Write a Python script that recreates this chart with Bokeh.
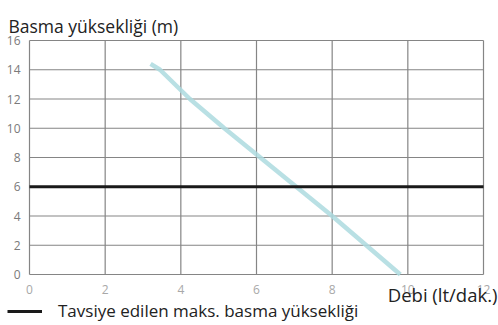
from bokeh.plotting import figure
from bokeh.models import Range1d, Label, Legend, LegendItem, ColumnDataSource
from bokeh.core.properties import value
from bokeh.embed import file_html
from bokeh.resources import INLINE

# Data
flow = [3.2, 3.45, 4.24, 5.15, 6.1, 7.05, 8.0, 8.9, 9.8]
head = [14.4, 14.0, 12.0, 10.0, 8.0, 6.0, 4.0, 2.0, 0.0]
rec_x = [0, 12]
rec_y = [6, 6]
x_ticks = [0, 2, 4, 6, 8, 10, 12]
y_ticks = [0, 2, 4, 6, 8, 10, 12, 14, 16]
title_txt = "Basma yüksekliği (m)"
xlabel_txt = "Debi (lt/dak.)"
legend_txt = "Tavsiye edilen maks. basma yüksekliği"

FONT = "Open Sans"
W, H = 498, 325
# pixel placement of the plotting area inside the canvas
PX0, PX1 = 29, 483   # x = 0 .. 12
PY0, PY1 = 274, 40   # y = 0 .. 16 (from top)
xmin, xmax = x_ticks[0], x_ticks[-1]
ymin, ymax = y_ticks[0], y_ticks[-1]
sx = (PX1 - PX0) / (xmax - xmin)
sy = (PY0 - PY1) / (ymax - ymin)
x_range = Range1d(xmin - PX0 / sx, xmax + (W - PX1) / sx)
y_range = Range1d(ymin - (H - PY0) / sy, ymax + PY1 / sy)

p = figure(width=W, height=H, output_backend="svg", toolbar_location=None,
           x_range=x_range, y_range=y_range, min_border=0)
p.axis.visible = False
p.grid.visible = False
p.outline_line_color = None

# grid lines from the tick arrays
vx = ColumnDataSource(dict(x=x_ticks, y0=[ymin] * len(x_ticks), y1=[ymax] * len(x_ticks)))
hy = ColumnDataSource(dict(y=y_ticks, x0=[xmin] * len(y_ticks), x1=[xmax] * len(y_ticks)))
p.segment(x0="x", x1="x", y0="y0", y1="y1", source=vx, line_color="#858585", line_width=1.2)
p.segment(x0="x0", x1="x1", y0="y", y1="y", source=hy, line_color="#858585", line_width=1.2)

# tick labels
yl = ColumnDataSource(dict(x=[xmin - 9 / sx] * len(y_ticks), y=y_ticks,
                           t=[str(v) for v in y_ticks]))
p.text(x="x", y="y", text="t", source=yl, text_align="right", text_baseline="middle",
       text_font=value(FONT), text_font_size="12px", text_color="#7a7a7a")
xl = ColumnDataSource(dict(x=x_ticks, y=[ymin - 15 / sy] * len(x_ticks),
                           t=[str(v) for v in x_ticks]))
p.text(x="x", y="y", text="t", source=xl, text_align="center", text_baseline="middle",
       text_font=value(FONT), text_font_size="12px", text_color="#a8a8a8")

# series
p.line(flow, head, line_color="#addadf", line_width=4.5, line_alpha=0.85)
rec = p.line(rec_x, rec_y, line_color="#1a1a1a", line_width=3)

# texts
p.add_layout(Label(x=xmin - 21 / sx, y=ymax + 15 / sy, text=title_txt, text_align="left",
                   text_baseline="alphabetic", text_font=FONT, text_font_size="17.5px",
                   text_color="#222222"))
p.add_layout(Label(x=xmax + 14 / sx, y=ymin - 20 / sy, text=xlabel_txt, text_align="right",
                   text_baseline="alphabetic", text_font=FONT, text_font_size="18.5px",
                   text_color="#222222"))

legend = Legend(items=[LegendItem(label=legend_txt, renderers=[rec])],
                location=(7, 3), orientation="horizontal",
                background_fill_alpha=0, border_line_color=None,
                padding=0, margin=0, glyph_width=35, glyph_height=20, label_height=20,
                label_standoff=16, label_text_font=FONT, label_text_font_size="17px",
                label_text_color="#222222", label_text_baseline="middle")
p.add_layout(legend)

open("out.html", "w").write(file_html(p, INLINE))
